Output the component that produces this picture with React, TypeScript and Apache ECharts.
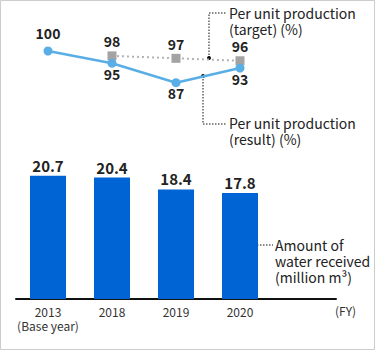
import React, { useEffect, useRef } from "react";
import * as echarts from "echarts";

const categories = ["2013\n(Base year)", "2018", "2019", "2020", ""];
const waterReceived = [20.7, 20.4, 18.4, 17.8];
const perUnitResult = [100, 95, 87, 93];
const perUnitTarget = [null, 98, 97, 96];
const resultLabelPos = ["top", "bottom", "bottom", "bottom"];

const FONT = '"Noto Sans CJK JP", "Noto Sans", sans-serif';

export default function App() {
  const ref = useRef<HTMLDivElement>(null);
  useEffect(() => {
    const chart = echarts.init(ref.current!, null, { renderer: "svg" });
    const dash = [1.5, 1.5];
    const note = (x: number, y: number, lines: string[]) =>
      lines.map((t, i) => ({
        type: "text",
        x,
        y: y + i * 16,
        style: { text: t, font: `14px ${FONT}`, fill: "#222", verticalAlign: "middle" },
      }));
    chart.setOption({
      animation: false,
      textStyle: { fontFamily: FONT },
      grid: [
        { left: 16, right: 39, top: 168, bottom: 51 },
        { left: 16, right: 39, top: 26.6, height: 97.6 },
      ],
      xAxis: [
        {
          type: "category",
          gridIndex: 0,
          data: categories,
          axisLine: { lineStyle: { color: "#111", width: 2 } },
          axisTick: { show: false },
          axisLabel: {
            interval: 0,
            color: "#333",
            fontSize: 12,
            lineHeight: 14,
            margin: 5,
            fontFamily: FONT,
          },
        },
        {
          type: "category",
          gridIndex: 1,
          data: categories,
          show: false,
        },
      ],
      yAxis: [
        { type: "value", gridIndex: 0, min: 0, max: 22, show: false, splitLine: { show: false } },
        { type: "value", gridIndex: 1, min: 70, max: 110, show: false, splitLine: { show: false } },
      ],
      series: [
        {
          type: "bar",
          xAxisIndex: 0,
          yAxisIndex: 0,
          data: waterReceived,
          barWidth: 36,
          itemStyle: { color: "#0064d4" },
          label: {
            show: true,
            position: "top",
            distance: 3,
            fontSize: 15,
            fontWeight: "bold",
            color: "#222",
            fontFamily: FONT,
            formatter: (p: any) => p.value.toFixed(1),
          },
        },
        {
          type: "line",
          xAxisIndex: 1,
          yAxisIndex: 1,
          data: perUnitTarget,
          symbol: "rect",
          symbolSize: 9,
          itemStyle: { color: "#a3a3a3" },
          lineStyle: { color: "#b3b3b3", width: 2, type: [2, 3] },
          label: {
            show: true,
            position: "top",
            distance: 3,
            fontSize: 14,
            fontWeight: "bold",
            color: "#222",
            fontFamily: FONT,
          },
          z: 2,
        },
        {
          type: "line",
          xAxisIndex: 1,
          yAxisIndex: 1,
          data: perUnitResult.map((v, i) => ({
            value: v,
            label:
              resultLabelPos[i] === "top"
                ? { position: "top", distance: 7 }
                : { position: "bottom", distance: 1, offset: [0, -2] },
          })),
          symbol: "circle",
          symbolSize: 9,
          itemStyle: { color: "#5aaee6" },
          lineStyle: { color: "#5aaee6", width: 2.5 },
          label: {
            show: true,
            fontSize: 14,
            fontWeight: "bold",
            color: "#222",
            fontFamily: FONT,
          },
          z: 3,
        },
      ],
      graphic: [
        {
          type: "rect",
          shape: { x: 0.5, y: 0.5, width: 374, height: 349 },
          style: { fill: "none", stroke: "#cccccc", lineWidth: 1 },
          silent: true,
        },
        {
          type: "text",
          x: 335,
          y: 310,
          style: { text: "(FY)", font: `12px ${FONT}`, fill: "#333", verticalAlign: "middle" },
        },
        // target annotation
        {
          type: "polyline",
          shape: { points: [[209, 58], [209, 13], [227, 13]] },
          style: { stroke: "#111", lineWidth: 1, lineDash: dash, fill: "none" },
        },
        { type: "circle", shape: { cx: 209, cy: 58, r: 2 }, style: { fill: "#111" } },
        ...note(229, 13, ["Per unit production", "(target) (%)"]),
        // result annotation
        {
          type: "polyline",
          shape: { points: [[203, 76], [203, 124], [226, 124]] },
          style: { stroke: "#111", lineWidth: 1, lineDash: dash, fill: "none" },
        },
        { type: "circle", shape: { cx: 203, cy: 76, r: 2 }, style: { fill: "#111" } },
        ...note(229, 123, ["Per unit production", "(result) (%)"]),
        // water annotation
        {
          type: "line",
          shape: { x1: 248, y1: 245, x2: 273, y2: 245 },
          style: { stroke: "#111", lineWidth: 1, lineDash: dash },
        },
        { type: "circle", shape: { cx: 248, cy: 245, r: 2 }, style: { fill: "#111" } },
        ...note(275, 245, ["Amount of", "water received", "(million m³)"]),
      ],
    });
    return () => chart.dispose();
  }, []);
  return (
    <div
      ref={ref}
      style={{ position: "absolute", left: 0, top: 0, width: 375, height: 350, background: "#fff" }}
    />
  );
}
